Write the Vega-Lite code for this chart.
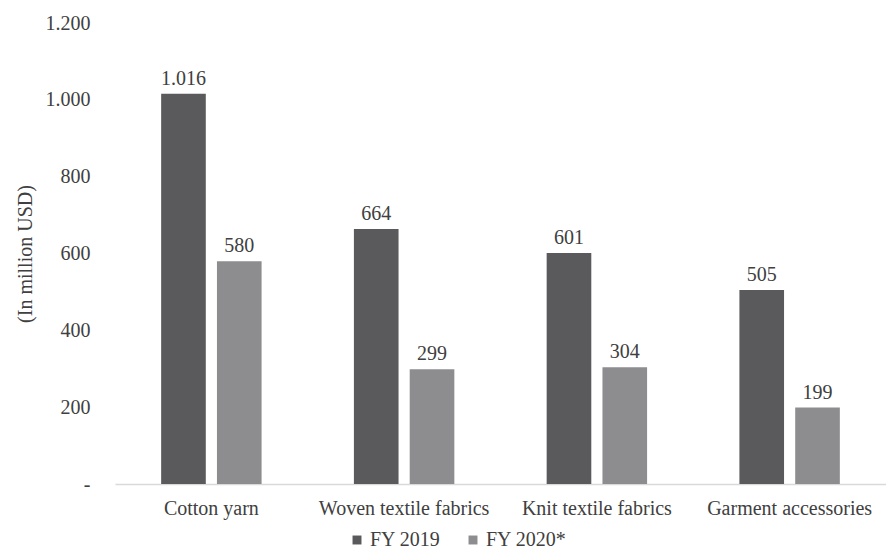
{
  "$schema": "https://vega.github.io/schema/vega-lite/v6.json",
  "width": 771,
  "height": 461,
  "autosize": {"type": "none"},
  "padding": {"left": 115, "top": 23, "right": 0, "bottom": 66},
  "background": "white",
  "config": {
    "font": "Liberation Serif",
    "view": {"stroke": null},
    "axis": {"labelFont": "Liberation Serif", "titleFont": "Liberation Serif", "labelColor": "#404040", "titleColor": "#404040"},
    "legend": {"labelFont": "Liberation Serif"}
  },
  "data": {
    "values": [
      {"category": "Cotton yarn", "year": "FY 2019", "value": 1016, "label": "1.016"},
      {"category": "Cotton yarn", "year": "FY 2020*", "value": 580, "label": "580"},
      {"category": "Woven textile fabrics", "year": "FY 2019", "value": 664, "label": "664"},
      {"category": "Woven textile fabrics", "year": "FY 2020*", "value": 299, "label": "299"},
      {"category": "Knit textile fabrics", "year": "FY 2019", "value": 601, "label": "601"},
      {"category": "Knit textile fabrics", "year": "FY 2020*", "value": 304, "label": "304"},
      {"category": "Garment accessories", "year": "FY 2019", "value": 505, "label": "505"},
      {"category": "Garment accessories", "year": "FY 2020*", "value": 199, "label": "199"}
    ]
  },
  "encoding": {
    "x": {
      "field": "category", "type": "nominal", "sort": null,
      "scale": {"paddingInner": 0.45, "paddingOuter": 0.225},
      "axis": {"title": null, "labelAngle": 0, "labelFontSize": 20, "labelPadding": 14, "ticks": false, "domainColor": "#d9d9d9", "domainWidth": 1.5, "labelColor": "#404040", "labelOverlap": false, "labelBound": false}
    },
    "xOffset": {"field": "year", "type": "nominal", "sort": null, "scale": {"paddingInner": 0.2, "paddingOuter": 0.05}},
    "y": {
      "field": "value", "type": "quantitative",
      "scale": {"domain": [0, 1200], "nice": false},
      "axis": {
        "title": "(In million USD)", "titleFontSize": 20, "titleFontWeight": "normal", "titlePadding": 10,
        "values": [0, 200, 400, 600, 800, 1000, 1200],
        "labelExpr": "datum.value == 0 ? '-' : replace(format(datum.value, ','), ',', '.')",
        "labelFontSize": 20, "labelPadding": 25, "ticks": false, "domain": false, "grid": false
      }
    }
  },
  "layer": [
    {
      "mark": {"type": "bar"},
      "encoding": {
        "color": {
          "field": "year", "type": "nominal", "sort": null,
          "scale": {"domain": ["FY 2019", "FY 2020*"], "range": ["#5a5a5c", "#8d8d8f"]},
          "legend": {
            "title": null, "orient": "none", "direction": "horizontal",
            "legendX": 232, "legendY": 507,
            "symbolType": "square", "symbolSize": 80, "symbolStrokeWidth": 0,
            "labelFontSize": 20, "labelColor": "#404040", "columnPadding": 22, "labelOffset": 3
          }
        }
      }
    },
    {
      "mark": {"type": "text", "baseline": "bottom", "dy": -5, "fontSize": 20, "color": "#404040"},
      "encoding": {"text": {"field": "label"}}
    }
  ]
}
